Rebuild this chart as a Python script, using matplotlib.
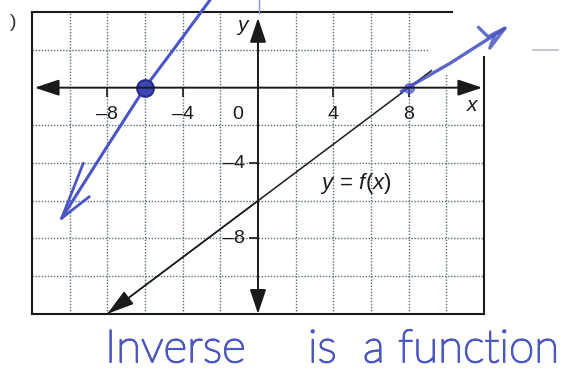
import matplotlib
matplotlib.use('Agg')
import matplotlib.pyplot as plt
import matplotlib.patheffects as pe

plt.rcParams['font.family'] = ['Liberation Sans', 'DejaVu Sans']
plt.rcParams['mathtext.fontset'] = 'custom'
plt.rcParams['mathtext.rm'] = 'Liberation Sans'
plt.rcParams['mathtext.it'] = 'Liberation Sans:italic'

# graph paper, in graph units
x_min, x_max = -12, 12
y_min, y_max = -12, 4
grid_x = [-10, -8, -6, -4, -2, 2, 4, 6, 8, 10]
grid_x_top = [4, 4, 4, 4, 4, 4, 4, 4, 4, 0.8]
grid_y = [2, -2, -4, -6, -8, -10]
grid_y_right = [9.0, 12, 12, 12, 12, 12]

x_ticks = [-8, -4, 4, 8]
x_tick_labels = ['\u20138', '\u20134', '4', '8']
y_ticks = [-4, -8]
y_tick_labels = ['\u20134', '\u20138']

# printed line y = f(x)
f_x = [-8, 0, 8, 9.2]
f_y = [-12, -6, 0, 0.9]

# pen strokes: the inverse and the extension of f
inv_x = [-2.4, -4.5, -6.0, -8.12, -10.42]
inv_y = [4.85, 2.0, 0.0, -3.3, -6.93]
inv_barb_x = [-9.27, -10.42, -8.95]
inv_barb_y = [-4.01, -6.93, -5.78]
ext_x = [7.6, 10.2, 13.1]
ext_y = [-0.2, 1.3, 3.15]
ext_barb_x = [11.7, 12.2, 13.1, 12.3, 12.6]
ext_barb_y = [3.2, 2.7, 3.15, 2.1, 2.9]

note_words = ['Inverse', 'is', 'a', 'function']
note_x = [-8.12, 2.65, 5.57, 7.43]
note_y = -14.56

pen = '#4a56c4'
grid_color = '#587078'
ink = '#1a1a1a'

fig = plt.figure(figsize=(5.65, 3.71), dpi=100)
ax = fig.add_axes([0, 0, 1, 1])
ax.set_xlim(-13.69, 16.29)
ax.set_ylim(-15.03, 4.65)
ax.axis('off')

# dotted grid
for gx, top in zip(grid_x, grid_x_top):
    ax.plot([gx, gx], [y_min, top], color=grid_color, lw=1.0, ls=(0, (1.0, 1.2)))
for gy, right in zip(grid_y, grid_y_right):
    ax.plot([x_min, right], [gy, gy], color=grid_color, lw=1.0, ls=(0, (1.0, 1.2)))

# frame (top right corner of the page is cut off)
ax.plot([x_min, x_min], [y_min, y_max], color=ink, lw=1.5)
ax.plot([x_min, x_max], [y_min, y_min], color=ink, lw=1.5)
ax.plot([x_min, 10.3], [y_max, y_max], color=ink, lw=1.5)
ax.plot([x_max, x_max], [y_min, 1.6], color=ink, lw=1.5)

# axes with arrows
head = '<|-|>,head_length=0.75,head_width=0.25'
ax.annotate('', xy=(-11.85, 0), xytext=(11.9, 0),
            arrowprops=dict(arrowstyle=head, color=ink, lw=1.4,
                            mutation_scale=20, shrinkA=0, shrinkB=0))
ax.annotate('', xy=(0, y_min), xytext=(0, 3.7),
            arrowprops=dict(arrowstyle=head, color=ink, lw=1.4,
                            mutation_scale=20, shrinkA=0, shrinkB=0))

ax.vlines(x_ticks, -0.5, 0, colors=ink, lw=1.2)
ax.hlines(y_ticks, -0.5, 0, colors=ink, lw=1.2)
for xt, lab in zip(x_ticks, x_tick_labels):
    ax.text(xt, -1.45, lab, ha='center', va='center', fontsize=14, color=ink)
for yt, lab in zip(y_ticks, y_tick_labels):
    ax.text(-0.7, yt, lab, ha='right', va='center', fontsize=14, color=ink)
ax.text(-1.06, -1.45, '0', ha='center', va='center', fontsize=14, color=ink)
ax.text(11.35, -0.95, 'x', ha='center', va='center', fontsize=15, style='italic', color=ink)
ax.text(-0.85, 3.3, 'y', ha='center', va='center', fontsize=15, style='italic', color=ink)

# y = f(x)
ax.plot(f_x, f_y, color=ink, lw=1.1)
ax.annotate('', xy=(f_x[0], f_y[0]), xytext=(f_x[1], f_y[1]),
            arrowprops=dict(arrowstyle='-|>,head_length=0.85,head_width=0.25',
                            color=ink, lw=1.1, mutation_scale=20,
                            shrinkA=0, shrinkB=0))
ax.text(3.3, -5.06, r'$y\,=\,f(x)$', ha='left', va='center', fontsize=16, color=ink)

# pen work
ax.plot(inv_x, inv_y, color=pen, lw=2.2, solid_capstyle='round', clip_on=False)
ax.plot(inv_barb_x, inv_barb_y, color=pen, lw=2.0, solid_capstyle='round',
        solid_joinstyle='round')
ax.plot([-6], [0], 'o', ms=12, mfc='#3b46b4', mec='#262c8c', mew=1.5)
ax.plot(ext_x, ext_y, color=pen, lw=2.4, solid_capstyle='round', alpha=0.9)
ax.plot(ext_barb_x, ext_barb_y, color=pen, lw=2.4, solid_capstyle='round',
        solid_joinstyle='round', alpha=0.85)
ax.plot([8], [0], 'o', ms=7, color=pen, alpha=0.7)
ax.plot([0.05, 0.05], [3.95, 4.65], color='#8593d8', lw=1.0)

# handwritten note, thin even stroke
note_color = '#4d58c2'
for word, wx in zip(note_words, note_x):
    ax.text(wx, note_y, word, ha='left', va='baseline', fontsize=33,
            family='Lato', fontweight='light', color=note_color,
            path_effects=[pe.withStroke(linewidth=1.3, foreground=note_color)])

ax.text(-13.0, 3.45, ')', ha='center', va='center', fontsize=14, color='#333333')
ax.plot([14.6, 15.9], [2.0, 2.0], color='#b5bccb', lw=1.2)

fig.savefig('out.png', dpi=100, facecolor='white')
